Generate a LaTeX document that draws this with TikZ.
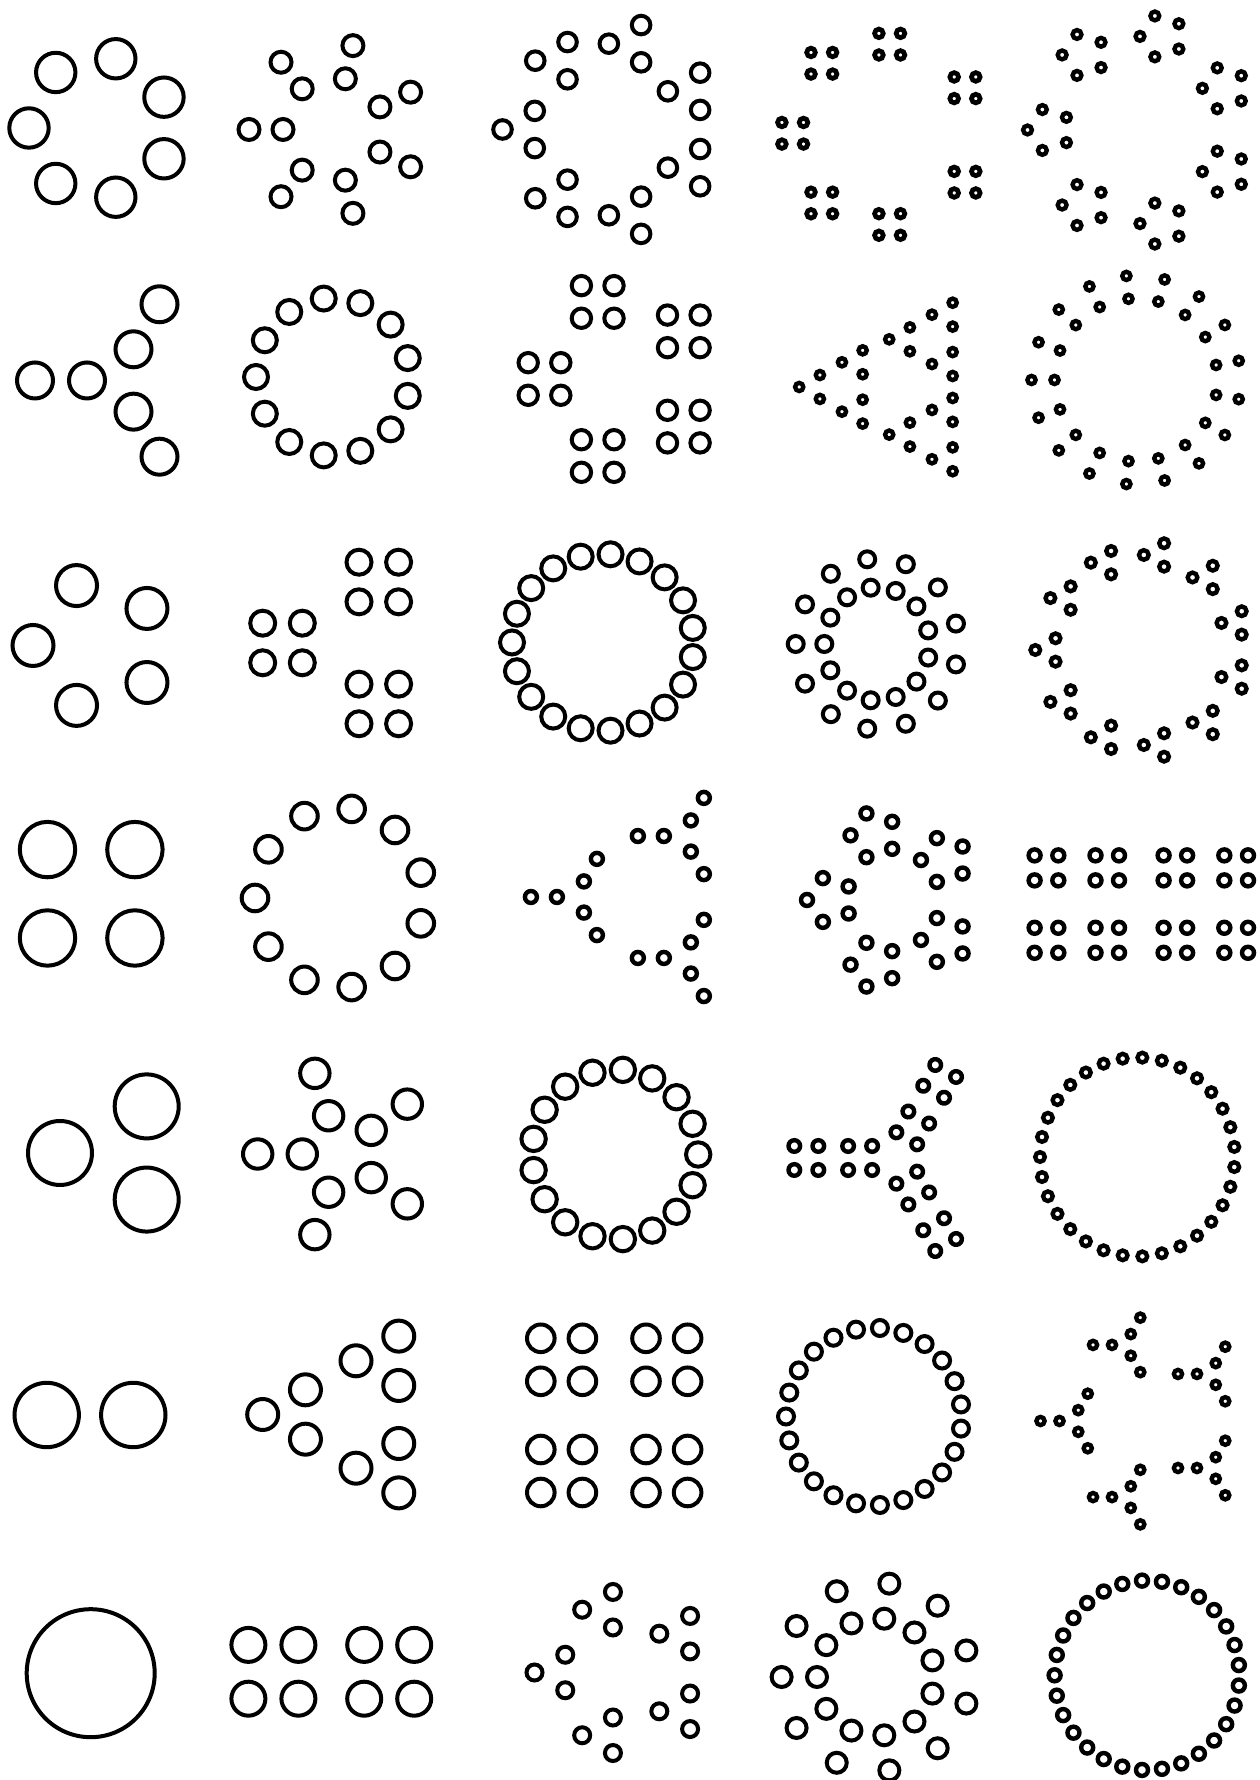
\documentclass[tikz,border=0pt]{standalone}

% #1 circles of radius #4 on an ellipse with radii #2 and #3, the first one on the left
\newcommand{\ngon}[4]{\foreach \j in {1,...,#1}{\draw ({180+360*(\j-1)/#1}:#2 and #3) circle (#4);}}
% #1 copies of the group #4 on an ellipse with radii #2 and #3 (\ga is the angle of each copy)
\newcommand{\groupring}[4]{\foreach \k in {1,...,#1}{\pgfmathsetmacro{\ga}{180+360*(\k-1)/#1}%
    \begin{scope}[shift={(\ga:#2 and #3)}]#4\end{scope}}}
% two circles along the angle #1, half distance #2
\newcommand{\pairat}[3]{\draw (#1:#2) circle (#3) ({#1+180}:#2) circle (#3);}
% 2x2 block
\newcommand{\squareat}[2]{\foreach \u in {-1,1}{\foreach \v in {-1,1}{\draw (\u*#1,\v*#1) circle (#2);}}}
% three pairs pointing out from the middle, inner and outer distance
\newcommand{\yat}[3]{\foreach \m in {0,1,2}{\draw ({180+120*\m}:#1) circle (#3) ({180+120*\m}:#2) circle (#3);}}

\begin{document}
\begin{tikzpicture}[x=0.02cm, y=0.02cm, line width=0.08cm]
    \useasboundingbox (0,0) rectangle (1259,1780);
    \tikzset{thin dots/.style={line width=0.088cm}, tiny dots/.style={line width=0.095cm}}
    % row 1: 7, 14, 21, 28, 35
    \begin{scope}[shift={(100,1652)}]\ngon{7}{71}{71}{19.7}\end{scope}
    \begin{scope}[shift={(334,1650.5)}]\groupring{7}{68}{69}{\pairat{\ga}{17}{10.5}}\end{scope}
    \begin{scope}[shift={(611,1650.5)}]\groupring{7}{87}{88}{\ngon{3}{21.5}{21.5}{9.3}}\end{scope}
    \begin{scope}[tiny dots]
        \foreach \px/\py in {792.7/1646.7, 821.8/1716.7, 889.7/1735.8, 965/1692.2, 965/1597.8, 889.7/1555.5, 821.8/1577}
            {\begin{scope}[shift={(\px,\py)}]\squareat{10.8}{4.3}\end{scope}}
    \end{scope}
    \begin{scope}[shift={(1141,1650)}, thin dots]\groupring{7}{92}{96}{\ngon{5}{21.5}{21.5}{4.4}}\end{scope}
    % row 2: 6, 13, 20, 27, 34
    \begin{scope}[shift={(118,1399.5)}]\groupring{3}{57}{62}{\pairat{\ga}{26}{18}}\end{scope}
    \begin{scope}[shift={(333,1403)}]\ngon{13}{77}{79}{12}\end{scope}
    \begin{scope}[shift={(621.5,1401)}]\groupring{5}{77}{81}{\squareat{16.3}{9.7}}\end{scope}
    \begin{scope}[shift={(901.5,1393)}, thin dots]\groupring{3}{60}{55}{\groupring{3}{28.5}{28.5}{\ngon{3}{13.8}{13.8}{4.1}}}\end{scope}
    \begin{scope}[shift={(1136,1400)}, thin dots]\groupring{17}{93}{93}{\pairat{\ga}{11.5}{4.1}}\end{scope}
    % row 3: 5, 12, 19, 26, 33
    \begin{scope}[shift={(96,1134.5)}]\ngon{5}{63}{63}{20.5}\end{scope}
    \begin{scope}[shift={(346.7,1137)}]\groupring{3}{64.2}{70.4}{\squareat{19.8}{12.5}}\end{scope}
    \begin{scope}[shift={(603,1137.5)}]\ngon{19}{91}{88.5}{12}\end{scope}
    \begin{scope}[shift={(877,1136)}]\groupring{13}{67}{71}{\pairat{\ga}{14.3}{8}}\end{scope}
    \begin{scope}[shift={(1143.8,1130)}, thin dots]\groupring{11}{95}{96}{\ngon{3}{13.5}{13.5}{4.8}}\end{scope}
    % row 4: 4, 11, 18, 25, 32
    \begin{scope}[shift={(91.2,886.2)}]
        \foreach \x in {-43.7,43.7}{\foreach \y in {-44.2,44.2}{\draw (\x,\y) circle (27.7);}}
    \end{scope}
    \begin{scope}[shift={(339.6,882)}]\ngon{11}{84.6}{90}{13.3}\end{scope}
    \begin{scope}[shift={(646.2,883)}, thin dots]\groupring{3}{71.3}{70.4}{\yat{18}{44}{6}}\end{scope}
    \begin{scope}[shift={(893,880)}, thin dots]\groupring{5}{63}{68}{\ngon{5}{23}{23}{6}}\end{scope}
    \begin{scope}[shift={(1141.3,875.9)}, thin dots]
        \foreach \x in {-106.7,-83,-45.8,-22.3,22.3,45.8,83,106.7}{\foreach \y in {-48.7,-23.7,23.7,48.7}{\draw (\x,\y) circle (6);}}
    \end{scope}
    % row 5: 3, 10, 17, 24, 31
    \begin{scope}[shift={(117.8,627)}]\ngon{3}{57.8}{53.8}{32}\end{scope}
    \begin{scope}[shift={(340.4,626)}]\groupring{5}{60.4}{62.5}{\pairat{\ga}{22.3}{14.7}}\end{scope}
    \begin{scope}[shift={(615.2,625.5)}]\ngon{17}{-83}{85}{12.2}\end{scope}
    \begin{scope}[shift={(895.2,622)}, thin dots]\groupring{3}{62}{61.6}{\begin{scope}[rotate=\ga]
        \foreach \x in {-38.9,-14.9,14.9,38.9}{\foreach \y in {-12,12}{\draw (\x,\y) circle (5.8);}}\end{scope}}\end{scope}
    \begin{scope}[shift={(1137.4,623)}, thin dots]\ngon{31}{97.4}{99.5}{4.8}\end{scope}
    % row 6: 2, 9, 16, 23, 30
    \begin{scope}[shift={(90,365)}]\pairat{0}{43.3}{32.2}\end{scope}
    \begin{scope}[shift={(353.4,365.5)}]\groupring{3}{62.2}{62}{\ngon{3}{28.5}{28.5}{15.5}}\end{scope}
    \begin{scope}[shift={(614.2,364.6)}]
        \foreach \x in {-73.4,-31.8,31.8,73.4}{\foreach \y in {-77.1,-34.1,34.1,77.1}{\draw (\x,\y) circle (13.8);}}
    \end{scope}
    \begin{scope}[shift={(873.9,363.5)}]\ngon{23}{87.9}{88.7}{8}\end{scope}
    \begin{scope}[shift={(1148,359)}, thin dots]\groupring{5}{76}{80}{\yat{12.5}{31.5}{4.1}}\end{scope}
    % row 7: 1, 8, 15, 22, 29
    \draw (90.7,106.8) circle (64);
    \begin{scope}[shift={(331.3,108.2)}]
        \foreach \x in {-82.9,-32.9,32.9,82.9}{\foreach \y in {-26.9,26.9}{\draw (\x,\y) circle (17);}}
    \end{scope}
    \begin{scope}[shift={(624,107.5)}]\groupring{5}{69}{66}{\ngon{3}{20.5}{20.5}{8}}\end{scope}
    \begin{scope}[shift={(875.9,103)}]\groupring{11}{76.6}{76.6}{\pairat{\ga}{17.7}{10}}\end{scope}
    \begin{scope}[shift={(1147,104.7)}, thin dots]\ngon{29}{92.4}{94.8}{6}\end{scope}
\end{tikzpicture}
\end{document}
